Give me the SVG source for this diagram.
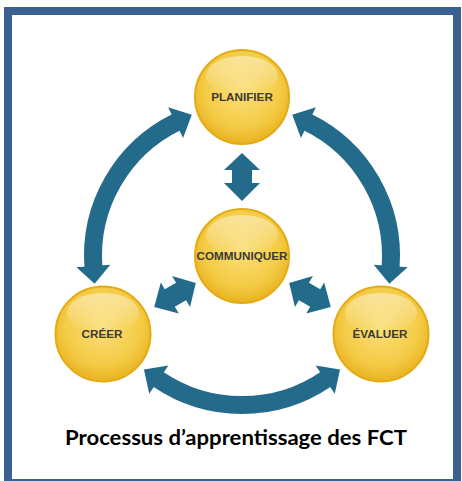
<svg xmlns="http://www.w3.org/2000/svg" width="462" height="481" viewBox="0 0 462 481">
  <defs>
    <style>
      .frame { fill: #ffffff; stroke: #3A6190; stroke-width: 8; }
      .arc { fill: none; stroke: #246A8B; stroke-width: 18; }
      .darrow { fill: #246A8B; }
      .ball { fill: url(#gold); stroke: #E4AC14; stroke-width: 2; }
      .shine { fill: url(#shine); }
      .lbl { font-family: "Liberation Sans", Arial, sans-serif; font-size: 11.7px; font-weight: bold; fill: #3C3A33; text-anchor: middle; }
      .title { font-family: Lato, "Liberation Sans", sans-serif; font-size: 21px; font-weight: bold; fill: #000000; text-anchor: middle; }
    </style>
    <radialGradient id="gold" cx="50%" cy="42%" r="58%">
      <stop offset="0%" stop-color="#FADF7A"/>
      <stop offset="70%" stop-color="#F4CB45"/>
      <stop offset="100%" stop-color="#E8B220"/>
    </radialGradient>
    <linearGradient id="shine" x1="0" y1="0" x2="0" y2="1">
      <stop offset="0%" stop-color="#ffffff" stop-opacity="0.45"/>
      <stop offset="100%" stop-color="#ffffff" stop-opacity="0"/>
    </linearGradient>
    <marker id="ah" markerUnits="userSpaceOnUse" viewBox="0 0 20 36" markerWidth="20" markerHeight="36" refX="1" refY="17" orient="auto-start-reverse" overflow="visible">
      <path d="M0,0 L18,17 L0,34 Z" fill="#246A8B"/>
    </marker>
    <path id="dbl" d="M0,-24 L18,-7 L10,-7 L10,6 L18,6 L0,24 L-18,6 L-10,6 L-10,-7 L-18,-7 Z"/>
  </defs>

  <rect class="frame" x="8" y="11" width="449" height="472"/>

  <g id="connectors">
    <path class="arc" d="M176.5,122.2 A149,149 0 0 0 93.4,266.9" marker-start="url(#ah)" marker-end="url(#ah)"/>
    <path class="arc" d="M307.5,122.2 A149,149 0 0 1 390.6,266.9" marker-start="url(#ah)" marker-end="url(#ah)"/>
    <path class="arc" d="M326,379.1 A149,149 0 0 1 158,379.1" marker-start="url(#ah)" marker-end="url(#ah)"/>
    <use href="#dbl" class="darrow" transform="translate(242,177)"/>
    <use href="#dbl" class="darrow" transform="translate(175,295) rotate(60)"/>
    <use href="#dbl" class="darrow" transform="translate(310,295) rotate(-60)"/>
  </g>

  <g id="planifier">
    <circle class="ball" cx="242" cy="97" r="47"/>
    <ellipse class="shine" cx="242" cy="76" rx="36" ry="20"/>
    <text class="lbl" x="242" y="101">PLANIFIER</text>
  </g>
  <g id="communiquer">
    <circle class="ball" cx="242" cy="256" r="47"/>
    <ellipse class="shine" cx="242" cy="235" rx="36" ry="20"/>
    <text class="lbl" x="242" y="260">COMMUNIQUER</text>
  </g>
  <g id="creer">
    <circle class="ball" cx="103" cy="334" r="47.5"/>
    <ellipse class="shine" cx="103" cy="313" rx="36" ry="20"/>
    <text class="lbl" x="102" y="338">CRÉER</text>
  </g>
  <g id="evaluer">
    <circle class="ball" cx="381" cy="334" r="47.5"/>
    <ellipse class="shine" cx="381" cy="313" rx="36" ry="20"/>
    <text class="lbl" x="380" y="338">ÉVALUER</text>
  </g>

  <text class="title" x="236" y="445" textLength="342" lengthAdjust="spacingAndGlyphs">Processus d’apprentissage des FCT</text>
</svg>
